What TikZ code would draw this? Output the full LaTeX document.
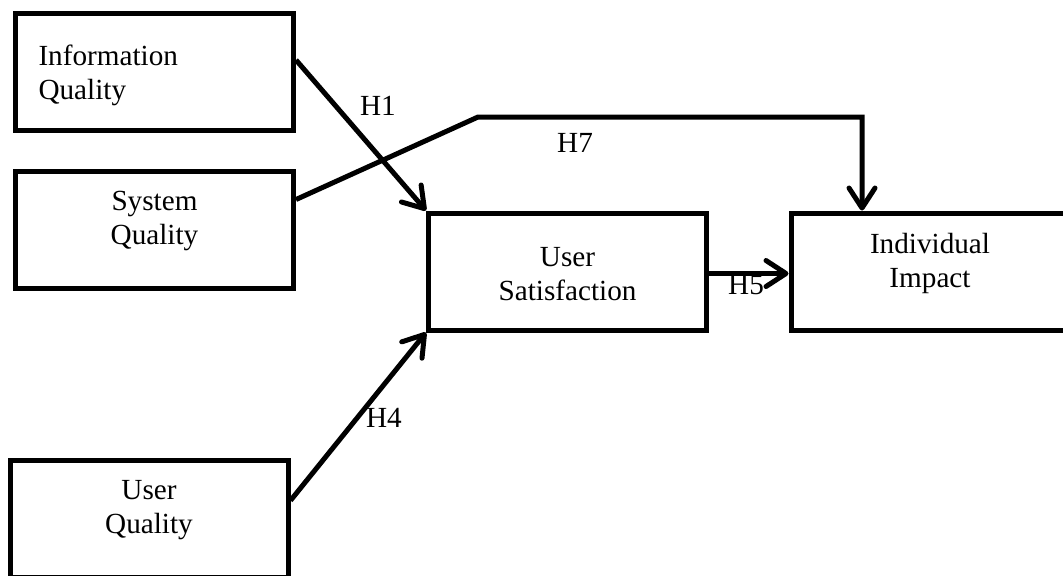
\documentclass[tikz,border=0pt]{standalone}
\usepackage{fontspec}
\setmainfont{Liberation Serif}
\usetikzlibrary{arrows.meta,positioning}

\tikzset{
  box/.style={draw, line width=2.5pt, align=center, minimum width=139pt,
    minimum height=58.5pt, font=\fontsize{14.6pt}{17pt}\selectfont},
  link/.style={line width=2.5pt, -{Straight Barb[length=10pt,width=13pt,round]}},
  hyp/.style={font=\fontsize{14.6pt}{17pt}\selectfont, inner sep=0pt},
}

\begin{document}
\begin{tikzpicture}[x=0.5pt,y=-0.5pt]
\useasboundingbox (0,0) rectangle (1063,575);

% the five constructs (text height/depth move the text inside each box)
\node[box, align=left, text width=116pt, text height=11pt, text depth=18pt]
  (info) at (154.5,72) {Information\\Quality};
\node[box, text height=25pt, text depth=10.5pt] (sys) at (154.5,229.5) {System\\Quality};
\node[box, text height=25pt, text depth=10.5pt] (uq) at (149,518.5) {User\\Quality};
\node[box, text height=31.5pt, text depth=3pt] (usat) at (567.5,271.5) {User\\Satisfaction};
\node[box, text height=25pt, text depth=9.5pt] (impact) at (930,271.5) {Individual\\Impact};

% hypotheses
\coordinate (h7bend) at (478,117);
\draw[link] ([yshift=6pt]info.east) -- (usat.north west);
\draw[link] ([yshift=15pt]sys.east) -- (h7bend) -| ([xshift=-34pt]impact.north);
\draw[link] ([yshift=-1pt]usat.east) -- ([yshift=-1pt]impact.west);
\draw[link] ([yshift=9pt]uq.east) -- (usat.south west);

\node[hyp] (h1) at (378,106) {H1};
\node[hyp] (h7) at (575,143) {H7};
\node[hyp] (h5) at (746,285) {H5};
\node[hyp] (h4) at (384,418) {H4};
\end{tikzpicture}
\end{document}
